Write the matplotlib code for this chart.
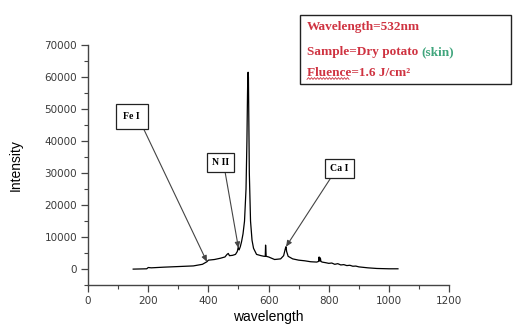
import numpy as np
import matplotlib.pyplot as plt
from matplotlib.text import Annotation
from matplotlib.ticker import MultipleLocator

# LIBS spectrum (wavelength in nm, intensity in counts)
wavelength = [150, 195, 200, 210, 250, 300, 350, 380, 395, 400, 420, 440, 455,
              462, 466, 470, 480, 490, 496, 499, 502, 506, 510, 515, 520, 525,
              528, 530, 531, 532, 533, 534, 536, 540, 545, 550, 560, 575, 585,
              589, 590, 592, 600, 620, 640, 650, 656, 658, 660, 665, 680, 700,
              720, 740, 760, 766, 768, 770, 772, 774, 778, 790, 800, 810, 820,
              830, 840, 850, 860, 870, 880, 890, 900, 930, 960, 1000, 1030]
intensity = [0, 100, 500, 400, 600, 800, 1000, 1500, 2300, 2800, 3000, 3400,
             3800, 4600, 4900, 4200, 4300, 4600, 5500, 6800, 6000, 7000, 8500,
             11000, 15000, 25000, 40000, 55000, 61000, 61500, 60000, 50000,
             30000, 15000, 9000, 6500, 4600, 4200, 4000, 4000, 7500, 4000, 3800,
             3000, 3200, 4200, 6500, 7000, 5500, 4000, 3200, 2800, 2600, 2300,
             2200, 2400, 3800, 2500, 3500, 2400, 2200, 2000, 1800, 1900, 1500,
             1700, 1300, 1400, 1100, 1200, 900, 950, 700, 400, 200, 100, 100]

# labelled lines
peak_names = ['Fe I', 'N II', 'Ca I']
peak_wl = [395, 500, 658]
# where the label boxes sit (nm, counts)
label_pos = [(145, 47600), (440, 33300), (836, 31400)]
arrow_start = [(1.0, 0.0), (0.72, 0.0), (0.19, 0.0)]
box_pad = [0.8, 0.5, 0.55]

info_lines = ['Wavelength=532nm', 'Sample=Dry potato ', 'Fluence=1.6 J/cm\u00b2']
red = '#cf3341'
green = '#3fa57c'

fig = plt.figure(figsize=(5.18, 3.24), dpi=100)
ax = fig.add_axes([0.170, 0.120, 0.697, 0.741])

ax.plot(wavelength, intensity, color='black', lw=0.9)

ax.set_xlim(0, 1200)
ax.set_ylim(-5000, 70000)
ax.xaxis.set_major_locator(MultipleLocator(200))
ax.xaxis.set_minor_locator(MultipleLocator(100))
ax.yaxis.set_major_locator(MultipleLocator(10000))
ax.yaxis.set_minor_locator(MultipleLocator(5000))
for side in ['top', 'right']:
    ax.spines[side].set_visible(False)
for side in ['left', 'bottom']:
    ax.spines[side].set_color('#444444')
    ax.spines[side].set_linewidth(1.0)
ax.tick_params(which='major', length=5, width=0.9, color='#444444',
               labelsize=7.5, labelcolor='#3a3a3a', pad=3)
ax.tick_params(which='minor', length=3, width=0.8, color='#444444')

ax.set_xlabel('wavelength', family='Liberation Sans', fontsize=10)
ax.set_ylabel('Intensity', family='Liberation Sans', fontsize=10)
ax.xaxis.set_label_coords(0.5, -0.105)
ax.yaxis.set_label_coords(-0.18, 0.5)

for name, wl, pos, rp, pad in zip(peak_names, peak_wl, label_pos, arrow_start, box_pad):
    y_at = np.interp(wl, wavelength, intensity)
    ax.annotate(name, xy=(wl, y_at), xytext=pos, ha='center', va='center',
                family='Liberation Serif', weight='bold', fontsize=7,
                bbox=dict(boxstyle=f'square,pad={pad}', fc='white', ec='#222222', lw=0.9),
                arrowprops=dict(arrowstyle='-|>,head_length=0.5,head_width=0.22',
                                color='#444444', lw=0.8, relpos=rp,
                                shrinkA=0, shrinkB=0))

# info box in the top right corner
box = plt.Rectangle((300 / 518, 1 - 84 / 324), 211 / 518, 69 / 324,
                    transform=fig.transFigure, fc='white', ec='#222222', lw=1.0)
fig.patches.append(box)
tx = 307 / 518
line_y = [27, 52, 73]
texts = []
for s, yy in zip(info_lines, line_y):
    t = fig.text(tx, 1 - yy / 324, s, color=red, family='Liberation Serif',
                 weight='bold', fontsize=9.5, va='center', ha='left')
    texts.append(t)
skin = Annotation('(skin)', xy=(1, 0.5), xycoords=texts[1], va='center', ha='left',
                  color=green, family='Liberation Serif', weight='bold', fontsize=9.5)
fig.add_artist(skin)

# wavy spell-check underline under "Fluence"
fig.canvas.draw()
bb = texts[2].get_window_extent()
frac = 0.42
x0, x1 = bb.x0, bb.x0 + (bb.x1 - bb.x0) * frac
xs = np.arange(x0, x1, 1.5)
ys = bb.y0 + 0.5 + 0.9 * ((np.arange(len(xs)) % 2) * 2 - 1)
fig.add_artist(plt.Line2D(xs, ys, transform=None, color=red, lw=0.6))

fig.savefig('out.png', dpi=100)
